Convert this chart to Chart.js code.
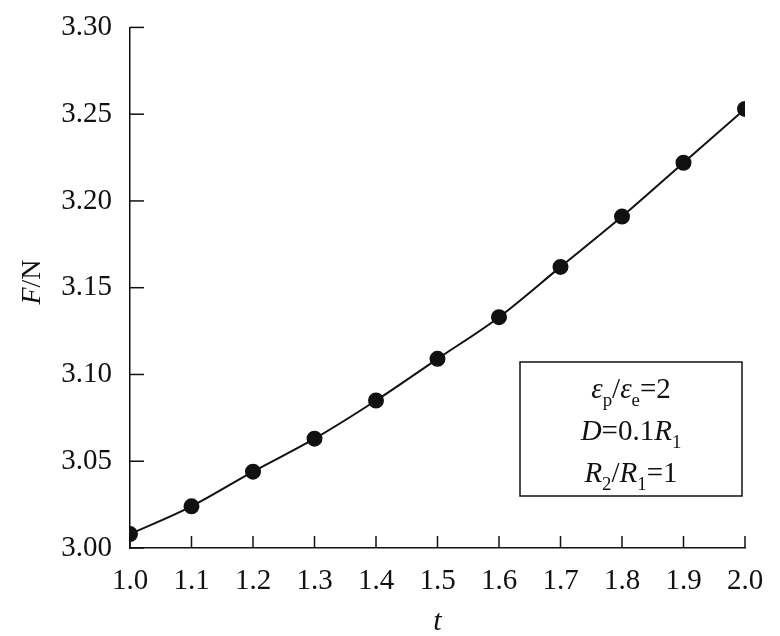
<!DOCTYPE html>
<html><head><meta charset="utf-8">
<script src="https://cdn.jsdelivr.net/npm/chart.js@4"></script>
<style>html,body{margin:0;padding:0;background:#fff}#w{width:780px;height:636px}</style>
</head><body><div id="w"><canvas id="c"></canvas></div>
<script>
const tValues = [1.0,1.1,1.2,1.3,1.4,1.5,1.6,1.7,1.8,1.9,2.0];
const forceValues = [3.008,3.024,3.044,3.063,3.085,3.109,3.133,3.162,3.191,3.222,3.253];
const xTicks = [1.0,1.1,1.2,1.3,1.4,1.5,1.6,1.7,1.8,1.9,2.0];
const yTicks = [3.00,3.05,3.10,3.15,3.20,3.25,3.30];
const F = 'Liberation Serif';

function rich(ctx, parts, cx, y, size){
  let w=0;
  const fs=p=>(p[1]?'italic ':'')+(p[2]?size*0.65:size)+'px '+F;
  parts.forEach(p=>{ctx.font=fs(p);w+=ctx.measureText(p[0]).width;});
  let x=cx-w/2;
  parts.forEach(p=>{ctx.font=fs(p);ctx.fillText(p[0],x,y+(p[2]?size*0.28:0));x+=ctx.measureText(p[0]).width;});
}

const deco = {id:'deco', afterDraw(ch){
  const ctx=ch.ctx, xs=ch.scales.x, ys=ch.scales.y, a=ch.chartArea;
  ctx.save(); ctx.strokeStyle='#111'; ctx.lineWidth=1.5; ctx.fillStyle='#111';
  xTicks.forEach(v=>{const x=xs.getPixelForValue(v);ctx.beginPath();ctx.moveTo(x,a.bottom);ctx.lineTo(x,a.bottom-12);ctx.stroke();});
  yTicks.forEach(v=>{const y=ys.getPixelForValue(v);ctx.beginPath();ctx.moveTo(a.left,y);ctx.lineTo(a.left+14,y);ctx.stroke();});
  ctx.textBaseline='alphabetic';
  ctx.font='italic 30px '+F; ctx.textAlign='center'; ctx.fillText('t', xs.getPixelForValue(1.5), 630);
  ctx.save(); ctx.translate(40,282); ctx.rotate(-Math.PI/2); ctx.textAlign='left';
  ctx.font='italic 28px '+F; const wF=ctx.measureText('F').width; ctx.font='28px '+F; const wN=ctx.measureText('/N').width;
  ctx.font='italic 28px '+F; ctx.fillText('F',-(wF+wN)/2,0); ctx.font='28px '+F; ctx.fillText('/N',-(wF+wN)/2+wF,0);
  ctx.restore();
  ctx.lineWidth=1.5; ctx.strokeRect(520,362,222,134);
  ctx.textAlign='left';
  rich(ctx,[['ε',true],['p',false,true],['/',false],['ε',true],['e',false,true],['=2',false]],631,398,29);
  rich(ctx,[['D',true],['=0.1',false],['R',true],['1',false,true]],631,440,29);
  rich(ctx,[['R',true],['2',false,true],['/',false],['R',true],['1',false,true],['=1',false]],631,482,29);
  ctx.restore();
}};

new Chart(document.getElementById('c'),{
  type:'line',
  data:{labels:tValues,datasets:[{data:tValues.map((t,i)=>({x:t,y:forceValues[i]})),borderColor:'#111',borderWidth:2,
    pointRadius:7,pointBackgroundColor:'#111',pointBorderColor:'#111',cubicInterpolationMode:'monotone',fill:false}]},
  options:{responsive:true,maintainAspectRatio:false,animation:false,
    layout:{padding:{top:0,right:35,left:0,bottom:0}},
    plugins:{legend:{display:false},tooltip:{enabled:false}},
    scales:{
      x:{type:'linear',min:1.0,max:2.0,afterFit:s=>{s.height=88;},
        afterBuildTicks:s=>{s.ticks=xTicks.map(v=>({value:v}));},
        grid:{display:false},border:{display:true,color:'#111',width:1.5},
        ticks:{color:'#111',padding:8,font:{family:F,size:29},callback:v=>v.toFixed(1),maxRotation:0,autoSkip:false}},
      y:{type:'linear',min:3.0,max:3.3,afterFit:s=>{s.width=130;},
        afterBuildTicks:s=>{s.ticks=yTicks.map(v=>({value:v}));},
        grid:{display:false},border:{display:true,color:'#111',width:1.5},
        ticks:{color:'#111',padding:10,font:{family:F,size:29},callback:v=>v.toFixed(2)}}
    }},
  plugins:[deco]
});
</script></body></html>
